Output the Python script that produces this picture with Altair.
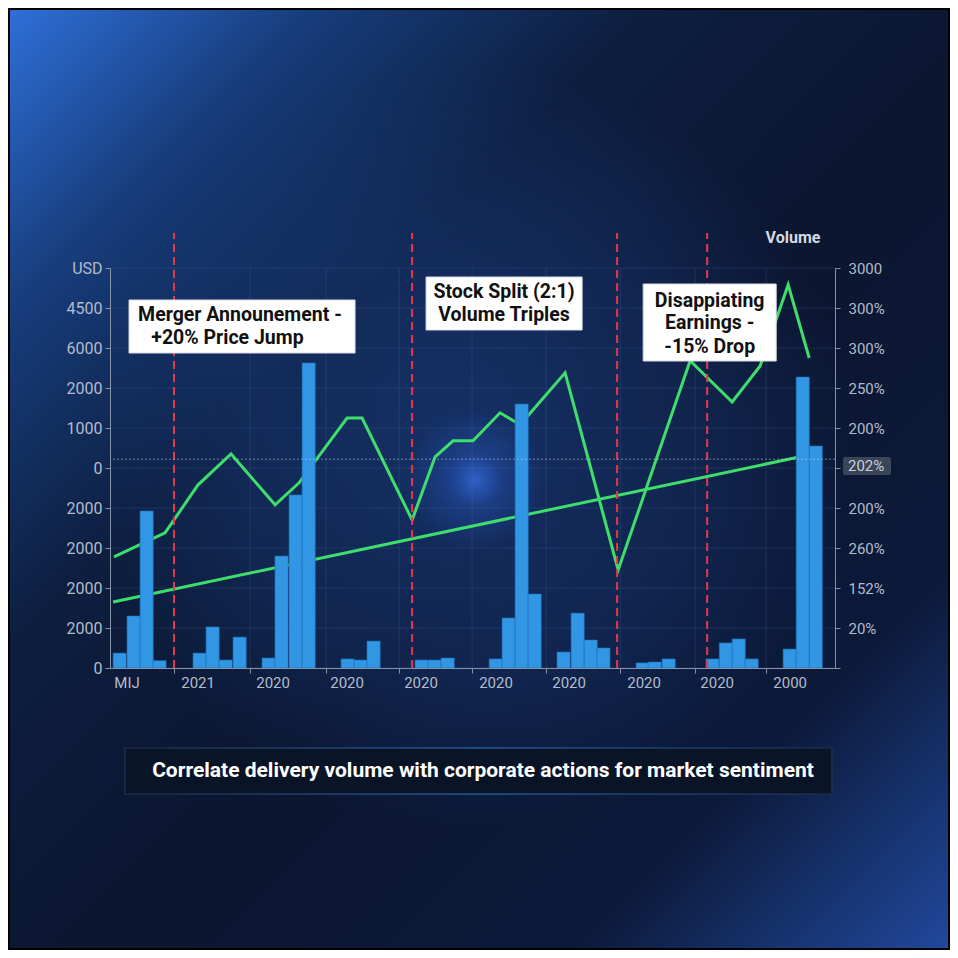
import altair as alt
import pandas as pd

# ---------------- data ----------------
# volume bars: start position (week index) and volume
BAR_X = [0.23, 1.28, 2.26, 3.23,
         6.24, 7.22, 8.20, 9.25,
         11.43, 12.40, 13.46, 14.44,
         17.37, 18.35, 19.32,
         22.93, 23.90, 24.89,
         28.50, 29.47, 30.45, 31.43,
         33.60, 34.66, 35.64, 36.60,
         39.55, 40.45, 41.50,
         44.80, 45.80, 46.77, 47.74,
         50.60, 51.58, 52.56]
VOLUME = [112, 390, 1178, 55,
          112, 308, 60, 232,
          75, 840, 1298, 2288,
          68, 60, 202,
          60, 60, 75,
          68, 375, 1980, 555,
          120, 412, 210, 150,
          38, 45, 68,
          68, 188, 218, 68,
          142, 2182, 1665]

# price line (left axis units)
PRICE_X = [0.30, 4.14, 6.62, 9.10, 12.41, 14.21, 17.82, 18.95, 22.71, 24.44,
           25.79, 27.29, 29.32, 30.83, 34.21, 38.20, 43.61, 46.77, 48.87, 50.98, 52.56]
PRICE_Y = [2.78, 3.38, 4.58, 5.35, 4.08, 4.63, 6.25, 6.25, 3.70, 5.28,
           5.68, 5.68, 6.38, 6.08, 7.38, 2.45, 7.68, 6.65, 7.55, 9.58, 7.75]

# trend line end points
TREND_X = [0.23, 51.88]
TREND_Y = [1.65, 5.28]

# corporate action events
EVENT_X = [4.81, 22.71, 38.12, 44.89]
EVENT_TOP = 10.875

# axis ticks / labels
TICK_X = [4.81, 10.53, 16.24, 21.73, 27.22, 32.78, 38.35, 43.98, 49.32]
XLABEL_X = [1.28, 6.62, 12.26, 17.82, 23.38, 29.02, 34.51, 40.15, 45.64, 51.13]
XLABELS = ["MIJ", "2021", "2020", "2020", "2020", "2020", "2020", "2020", "2020", "2000"]
LEFT_LABELS = ["0", "2000", "2000", "2000", "2000", "0", "1000", "2000", "6000", "4500", "USD"]
RIGHT_LABELS = ["", "20%", "152%", "260%", "200%", "", "200%", "250%", "300%", "300%", "3000"]
HIGHLIGHT_LABEL = "202%"
HIGHLIGHT_LEVEL = 5.22

# annotation boxes
BOX_X1 = [1.43, 23.76, 40.08]
BOX_X2 = [18.42, 35.49, 50.08]
BOX_Y1 = [7.875, 8.45, 7.675]
BOX_Y2 = [9.2, 9.775, 9.6]
NOTE_TEXT = ["Merger Announement -", "+20% Price Jump", "Stock Split (2:1)", "Volume Triples",
             "Disappiating", "Earnings -", "-15% Drop"]
NOTE_X = [9.77, 8.83, 29.62, 29.62, 45.08, 45.08, 45.08]
NOTE_Y = [8.825, 8.25, 9.4, 8.825, 9.175, 8.625, 8.025]

CAPTION = "Correlate delivery volume with corporate actions for market sentiment"
VOLUME_TITLE = "Volume"

# ---------------- styling ----------------
FONT = "Roboto"
AX = "#8592a8"
LAB = "#b3bccb"
GREEN = "#3fdd6c"
BLUE = "#3197e4"
RED = "#e6384a"
GRID = "#6f8fc8"

XS = alt.Scale(domain=[0, 54.5], nice=False, zero=False)
PS = alt.Scale(domain=[0, 10], nice=False, zero=False)
VS = alt.Scale(domain=[0, 3000], nice=False, zero=False)

X_AXIS = alt.Axis(values=TICK_X, labels=False, ticks=True, tickSize=5, tickColor=AX,
                  domainColor=AX, grid=False, title=None, zindex=1)
NOAX = None

left_expr = "[" + ",".join("'%s'" % s for s in LEFT_LABELS) + "][round(datum.value)]"
right_expr = "[" + ",".join("'%s'" % s for s in RIGHT_LABELS) + "][round(datum.value/300)]"

L_AXIS = alt.Axis(orient="left", values=list(range(11)), labelExpr=left_expr, title=None,
                  grid=False, tickSize=5, tickColor=AX, domainColor=AX, labelColor=LAB,
                  labelFont=FONT, labelFontSize=16, labelPadding=3, labelFlush=False,
                  labelOverlap=False, zindex=1)
R_AXIS = alt.Axis(orient="right", values=[300 * i for i in range(11)], labelExpr=right_expr,
                  title=None, grid=False, tickSize=5, tickColor=AX, domainColor=AX,
                  labelColor=LAB, labelFont=FONT, labelFontSize=15, labelPadding=8,
                  labelFlush=False, labelOverlap=False, zindex=1)

one = pd.DataFrame({"k": [0]})
bars = pd.DataFrame({"x": BAR_X, "v": VOLUME})
price = pd.DataFrame({"x": PRICE_X, "y": PRICE_Y})
trend = pd.DataFrame({"x": TREND_X, "y": TREND_Y})
events = pd.DataFrame({"x": EVENT_X})
ticks = pd.DataFrame({"x": TICK_X})
hgrid = pd.DataFrame({"y": list(range(11))})
xlab = pd.DataFrame({"x": XLABEL_X, "t": XLABELS})
boxes = pd.DataFrame({"x1": BOX_X1, "x2": BOX_X2, "y1": BOX_Y1, "y2": BOX_Y2})
notes = pd.DataFrame({"x": NOTE_X, "y": NOTE_Y, "t": NOTE_TEXT})

# ---------------- background ----------------
bg = alt.Chart(one).mark_rect(
    fill=alt.Gradient(gradient="linear", x1=0, y1=0, x2=1, y2=1, stops=[
        alt.GradientStop(color="#2f6fd8", offset=0.0),
        alt.GradientStop(color="#173d7c", offset=0.16),
        alt.GradientStop(color="#0d1e3f", offset=0.34),
        alt.GradientStop(color="#0b1630", offset=0.55),
        alt.GradientStop(color="#0c1a3a", offset=0.8),
        alt.GradientStop(color="#21489c", offset=1.0),
    ])
).encode(x=alt.value(-100), x2=alt.value(838), y=alt.value(-258), y2=alt.value(680))

glow = alt.Chart(one).mark_rect(
    fill=alt.Gradient(gradient="radial", x1=0.5, y1=0.5, x2=0.5, y2=0.5, r1=0, r2=0.5, stops=[
        alt.GradientStop(color="rgba(30,72,150,0.5)", offset=0.0),
        alt.GradientStop(color="rgba(30,72,150,0.28)", offset=0.6),
        alt.GradientStop(color="rgba(30,72,150,0)", offset=1.0),
    ])
).encode(x=alt.value(-20), x2=alt.value(740), y=alt.value(-200), y2=alt.value(560))

spot = alt.Chart(one).mark_rect(
    fill=alt.Gradient(gradient="radial", x1=0.5, y1=0.5, x2=0.5, y2=0.5, r1=0, r2=0.5, stops=[
        alt.GradientStop(color="rgba(55,115,235,0.75)", offset=0.0),
        alt.GradientStop(color="rgba(45,95,210,0.3)", offset=0.4),
        alt.GradientStop(color="rgba(45,95,210,0)", offset=1.0),
    ])
).encode(x=alt.value(295), x2=alt.value(435), y=alt.value(142), y2=alt.value(282))

# ---------------- grid ----------------
vgrid_l = alt.Chart(ticks).mark_rule(color=GRID, opacity=0.16, strokeWidth=1).encode(
    x=alt.X("x:Q", scale=XS, axis=X_AXIS))
hgrid_l = alt.Chart(hgrid).mark_rule(color=GRID, opacity=0.16, strokeWidth=1).encode(
    y=alt.Y("y:Q", scale=PS, axis=L_AXIS))

# ---------------- data marks ----------------
trend_l = alt.Chart(trend).mark_line(color=GREEN, strokeWidth=3).encode(
    x=alt.X("x:Q", scale=XS, axis=X_AXIS), y=alt.Y("y:Q", scale=PS, axis=NOAX))
price_l = alt.Chart(price).mark_line(color=GREEN, strokeWidth=3, strokeJoin="miter").encode(
    x=alt.X("x:Q", scale=XS, axis=X_AXIS), y=alt.Y("y:Q", scale=PS, axis=NOAX))
bars_l = alt.Chart(bars).transform_calculate(x2="datum.x + 0.99").mark_bar(
    color=BLUE, stroke="#1f6cb5", strokeWidth=0.6).encode(
    x=alt.X("x:Q", scale=XS, axis=X_AXIS), x2="x2:Q",
    y=alt.Y("v:Q", scale=VS, axis=R_AXIS), y2=alt.Y2(datum=0))
events_l = alt.Chart(events).mark_rule(color=RED, strokeDash=[8, 5], strokeWidth=2).encode(
    x=alt.X("x:Q", scale=XS, axis=X_AXIS),
    y=alt.Y(datum=0, scale=PS, axis=NOAX), y2=alt.datum(EVENT_TOP))
cross_l = alt.Chart(one).mark_rule(color="#c3cde0", strokeDash=[2, 2], strokeWidth=1, opacity=0.55).encode(
    y=alt.Y(datum=HIGHLIGHT_LEVEL, scale=PS, axis=NOAX))

xlab_l = alt.Chart(xlab).mark_text(font=FONT, fontSize=15, color=LAB, baseline="middle").encode(
    x=alt.X("x:Q", scale=XS, axis=X_AXIS), y=alt.value(415), text="t:N")

box_l = alt.Chart(boxes).mark_rect(fill="white", stroke="#d7dbe2", strokeWidth=1).encode(
    x=alt.X("x1:Q", scale=XS, axis=X_AXIS), x2="x2:Q",
    y=alt.Y("y1:Q", scale=PS, axis=NOAX), y2="y2:Q")
note_l = alt.Chart(notes).mark_text(font=FONT, fontSize=19.5, fontWeight="bold", color="#111111",
                                     baseline="middle").encode(
    x=alt.X("x:Q", scale=XS, axis=X_AXIS), y=alt.Y("y:Q", scale=PS, axis=NOAX), text="t:N")

# highlighted right-axis value
hl_box = alt.Chart(one).mark_rect(fill="#3a4558", cornerRadius=2).encode(
    x=alt.value(733), x2=alt.value(781), y=alt.value(189), y2=alt.value(207))
hl_txt = alt.Chart(one).mark_text(font=FONT, fontSize=15, color="#c9d0dc", align="left",
                                   baseline="middle", text=HIGHLIGHT_LABEL).encode(
    x=alt.value(738), y=alt.value(198))

vol_title = alt.Chart(one).mark_text(font=FONT, fontSize=16, fontWeight="bold", color="#d5dae3",
                                      baseline="middle", text=VOLUME_TITLE).encode(
    x=alt.value(683), y=alt.value(-30))

# caption
cap_box = alt.Chart(one).mark_rect(
    fill="#0a1427", strokeWidth=1.2,
    stroke=alt.Gradient(gradient="linear", x1=0, y1=0, x2=1, y2=0, stops=[
        alt.GradientStop(color="#22324f", offset=0.0),
        alt.GradientStop(color="#3b74c8", offset=0.5),
        alt.GradientStop(color="#22324f", offset=1.0),
    ])
).encode(x=alt.value(15), x2=alt.value(722), y=alt.value(480), y2=alt.value(526))
cap_txt = alt.Chart(one).mark_text(font=FONT, fontSize=21, fontWeight="bold", color="#ffffff",
                                    baseline="middle", text=CAPTION).encode(
    x=alt.value(373), y=alt.value(503))

chart = alt.layer(
    bg, glow, spot, vgrid_l, hgrid_l, trend_l, price_l, bars_l, events_l, cross_l,
    xlab_l, box_l, note_l, hl_box, hl_txt, vol_title, cap_box, cap_txt
).resolve_scale(y="independent").properties(
    width=725, height=400,
    autosize=alt.AutoSizeParams(type="none"),
    padding={"left": 102, "top": 260, "right": 115, "bottom": 282},
    background="#000000",
).configure_view(stroke=None)

chart.save("out.html", embed_options={"renderer": "svg", "actions": False})
